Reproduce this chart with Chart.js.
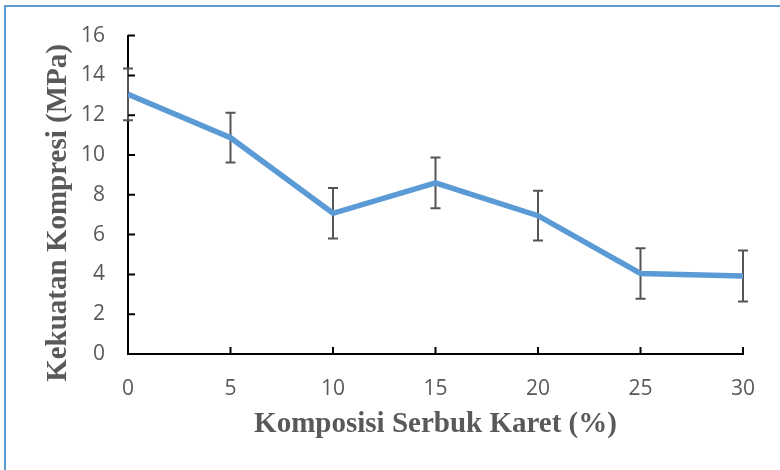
<!DOCTYPE html>
<html>
<head>
<meta charset="utf-8">
<script src="https://cdn.jsdelivr.net/npm/chart.js@4/dist/chart.umd.min.js"></script>
<style>
  html, body { margin: 0; padding: 0; background: #fff; overflow: hidden; }
  #wrap { position: relative; width: 780px; height: 470px; }
  #frame { position: absolute; left: 4px; top: 5px; width: 820px; height: 520px; border: 2px solid #5b9bd5; }
  canvas { position: absolute; left: 0; top: 0; }
</style>
</head>
<body>
<div id="wrap">
  <div id="frame"></div>
  <canvas id="kompresiChart" width="780" height="470"></canvas>
</div>
<script>
// data
const komposisi = [0, 5, 10, 15, 20, 25, 30];
const kekuatan = [13.05, 10.87, 7.07, 8.6, 6.95, 4.05, 3.92];
const galat = [1.3, 1.25, 1.27, 1.27, 1.25, 1.27, 1.28];
const yTicks = [0, 2, 4, 6, 8, 10, 12, 14, 16];

const grey = '#595959';

// error bars, drawn under the line
const errorBars = {
    id: 'errorBars',
    beforeDatasetsDraw(chart) {
        const {ctx, scales: {x, y}} = chart;
        ctx.save();
        ctx.strokeStyle = '#555555';
        ctx.lineWidth = 2;
        komposisi.forEach((k, i) => {
            const px = x.getPixelForValue(k);
            const top = y.getPixelForValue(kekuatan[i] + galat[i]);
            const bot = y.getPixelForValue(kekuatan[i] - galat[i]);
            ctx.beginPath();
            ctx.moveTo(px, top); ctx.lineTo(px, bot);
            ctx.moveTo(px - 5, top); ctx.lineTo(px + 5, top);
            ctx.moveTo(px - 5, bot); ctx.lineTo(px + 5, bot);
            ctx.stroke();
        });
        ctx.restore();
    }
};

// tick marks pointing into the plot
const innerTicks = {
    id: 'innerTicks',
    afterDraw(chart) {
        const {ctx, scales: {x, y}} = chart;
        const x0 = x.getPixelForValue(0);
        const y0 = y.getPixelForValue(0);
        ctx.save();
        ctx.strokeStyle = '#000';
        ctx.lineWidth = 2;
        ctx.beginPath();
        yTicks.forEach(v => {
            const py = y.getPixelForValue(v);
            ctx.moveTo(x0, py); ctx.lineTo(x0 + 7, py);
        });
        komposisi.forEach(v => {
            const px = x.getPixelForValue(v);
            ctx.moveTo(px, y0); ctx.lineTo(px, y0 - 7);
        });
        ctx.stroke();
        ctx.restore();
    }
};

const ctx = document.getElementById('kompresiChart').getContext('2d');

new Chart(ctx, {
    type: 'line',
    data: {
        datasets: [{
            data: komposisi.map((k, i) => ({x: k, y: kekuatan[i]})),
            borderColor: '#5b9bd5',
            borderWidth: 5.5,
            pointRadius: 0,
            fill: false,
            tension: 0
        }]
    },
    options: {
        responsive: false,
        animation: false,
        layout: { padding: { top: 35, right: 37, left: 0, bottom: 0 } },
        plugins: {
            legend: { display: false },
            tooltip: { enabled: false }
        },
        scales: {
            x: {
                type: 'linear',
                min: 0,
                max: 30,
                afterFit(scale) { scale.height = 116; },
                afterBuildTicks(scale) { scale.ticks = komposisi.map(v => ({value: v})); },
                grid: { drawOnChartArea: false, drawTicks: false },
                border: { color: '#000', width: 2 },
                ticks: { color: grey, padding: 22, font: { family: 'Open Sans', size: 21 } },
                title: {
                    display: true,
                    text: 'Komposisi Serbuk Karet (%)',
                    color: grey,
                    font: { family: 'Liberation Serif', size: 29, weight: 'bold' },
                    padding: { top: 0, bottom: 28 }
                }
            },
            y: {
                min: 0,
                max: 16,
                afterFit(scale) { scale.width = 128; },
                afterBuildTicks(scale) { scale.ticks = yTicks.map(v => ({value: v})); },
                grid: { drawOnChartArea: false, drawTicks: false },
                border: { color: '#000', width: 2 },
                ticks: { color: grey, padding: 23, font: { family: 'Open Sans', size: 21 } },
                title: {
                    display: true,
                    text: 'Kekuatan Kompresi (MPa)     ',
                    color: grey,
                    font: { family: 'Liberation Serif', size: 29, weight: 'bold' },
                    padding: { top: 41, bottom: 0 }
                }
            }
        }
    },
    plugins: [errorBars, innerTicks]
});
</script>
</body>
</html>
